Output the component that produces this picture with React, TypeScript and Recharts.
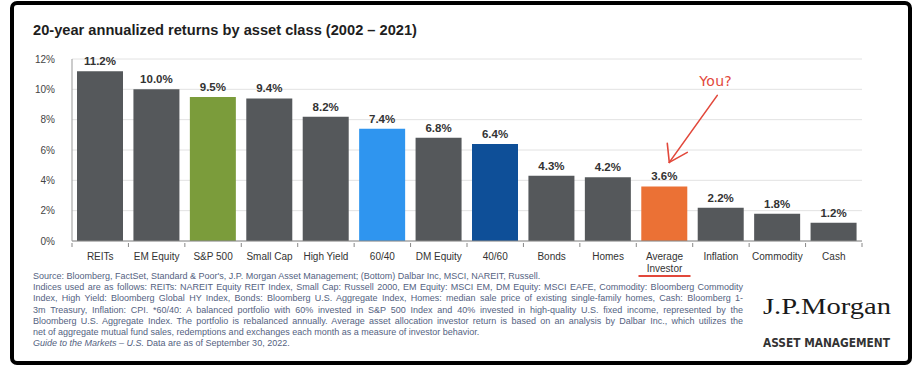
import React from "react";
import { BarChart, Bar, XAxis, YAxis, CartesianGrid, Cell } from "recharts";

// chart values
const categories = [
  "REITs",
  "EM Equity",
  "S&P 500",
  "Small Cap",
  "High Yield",
  "60/40",
  "DM Equity",
  "40/60",
  "Bonds",
  "Homes",
  "Average Investor",
  "Inflation",
  "Commodity",
  "Cash",
];
const returns = [11.2, 10.0, 9.5, 9.4, 8.2, 7.4, 6.8, 6.4, 4.3, 4.2, 3.6, 2.2, 1.8, 1.2];
const barColors = [
  "#55585b", "#55585b", "#7b9c3b", "#55585b", "#55585b", "#2f95ef", "#55585b",
  "#0e4f98", "#55585b", "#55585b", "#eb7135", "#55585b", "#55585b", "#55585b",
];
const yTicks = [0, 2, 4, 6, 8, 10, 12];
const highlighted = "Average Investor";

const footnoteLines = [
  "Indices used are as follows: REITs: NAREIT Equity REIT Index, Small Cap: Russell 2000, EM Equity: MSCI EM, DM Equity: MSCI EAFE, Commodity: Bloomberg Commodity",
  "Index, High Yield: Bloomberg Global HY Index, Bonds: Bloomberg U.S. Aggregate Index, Homes: median sale price of existing single-family homes, Cash: Bloomberg 1-",
  "3m Treasury, Inflation: CPI. *60/40: A balanced portfolio with 60% invested in S&P 500 Index and 40% invested in high-quality U.S. fixed income, represented by the",
  "Bloomberg U.S. Aggregate Index. The portfolio is rebalanced annually. Average asset allocation investor return is based on an analysis by Dalbar Inc., which utilizes the",
];

const data = categories.map((name, i) => ({ name, value: returns[i], color: barColors[i] }));

const FONT = "'Liberation Sans', Arial, sans-serif";
const RED = "#e2483b";
const CHART_W = 922;
const M_LEFT = 72;
const M_RIGHT = 60;
const band = (CHART_W - M_LEFT - M_RIGHT) / categories.length;

function CategoryTick({ x, y, payload, index }: any) {
  const stacked = payload.value === highlighted;
  const parts = stacked ? String(payload.value).split(" ") : [payload.value];
  const last = index === categories.length - 1;
  return (
    <g>
      <line x1={x - band / 2} x2={x - band / 2} y1={y} y2={y + 4} stroke="#888" />
      {last && <line x1={x + band / 2} x2={x + band / 2} y1={y} y2={y + 4} stroke="#888" />}
      {parts.map((t: string, i: number) => (
        <text key={i} x={x} y={y + 17 + i * 12} textAnchor="middle" fontSize={10} fontFamily={FONT} fill="#333">
          {t}
        </text>
      ))}
      {stacked && <line x1={x - 26} x2={x + 26} y1={y + 33} y2={y + 33} stroke={RED} strokeWidth={2} />}
    </g>
  );
}

function ValueLabel({ x, y, width, value, index }: any) {
  const cx = x + width / 2;
  const isAvg = categories[index] === highlighted;
  return (
    <g>
      <text x={cx} y={y - 6} textAnchor="middle" fontSize={11.5} fontWeight="bold" fontFamily={FONT} fill="#333">
        {Number(value).toFixed(1)}%
      </text>
      {isAvg && (
        <g stroke={RED} strokeWidth={1.6} fill="none" strokeLinecap="round">
          <line x1={cx + 53} y1={y - 91} x2={cx + 5} y2={y - 24} />
          <line x1={cx + 5} y1={y - 24} x2={cx + 3} y2={y - 43} />
          <line x1={cx + 5} y1={y - 24} x2={cx + 23} y2={y - 34} />
          <text
            x={cx + 35}
            y={y - 100}
            fontSize={14}
            fontFamily="'DejaVu Sans', sans-serif"
            fill={RED}
            stroke="none"
            letterSpacing={0.3}
          >
            You?
          </text>
        </g>
      )}
    </g>
  );
}

export default function App() {
  return (
    <div style={{ position: "relative", width: 922, height: 367, background: "#fff", overflow: "hidden" }}>
      <style>{`body{margin:0}`}</style>
      <div
        style={{
          position: "absolute",
          left: 10,
          top: 1,
          width: 902,
          height: 364,
          border: "4.5px solid #000",
          borderRadius: 7,
          boxSizing: "border-box",
        }}
      />
      <svg width={922} height={367} style={{ position: "absolute", left: 0, top: 0 }}>
        <text x={33} y={35} fontSize={14.6} fontWeight="bold" fontFamily={FONT} fill="#1e1e1e" textLength={384} lengthAdjust="spacingAndGlyphs">
          20-year annualized returns by asset class (2002 – 2021)
        </text>
        <text x={763} y={314} fontSize={24} fontFamily="'Liberation Serif', 'Times New Roman', serif" fill="#1a1a1a" textLength={128} lengthAdjust="spacingAndGlyphs">
          J.P.Morgan
        </text>
        <text x={763} y={347} fontSize={11.5} fontWeight="bold" fontFamily="'DejaVu Sans Condensed', 'DejaVu Sans', sans-serif" fill="#333" textLength={127} lengthAdjust="spacingAndGlyphs">
          ASSET MANAGEMENT
        </text>
      </svg>
      <div style={{ position: "absolute", left: 0, top: 0 }}>
        <BarChart width={CHART_W} height={290} data={data} margin={{ top: 59, right: M_RIGHT, bottom: 19, left: 0 }}>
          <CartesianGrid vertical={false} stroke="#e2e2e2" />
          <XAxis
            dataKey="name"
            height={30}
            interval={0}
            axisLine={{ stroke: "#888" }}
            tickLine={false}
            tickSize={0}
            tick={<CategoryTick />}
          />
          <YAxis
            width={M_LEFT}
            domain={[0, 12]}
            ticks={yTicks}
            interval={0}
            tickFormatter={(v) => `${v}%`}
            tickLine={false}
            tickSize={0}
            tickMargin={17}
            axisLine={{ stroke: "#999" }}
            tick={{ fontSize: 10, fontFamily: FONT, fill: "#444" }}
          />
          <Bar dataKey="value" barSize={46} isAnimationActive={false} label={<ValueLabel />}>
            {data.map((d) => (
              <Cell key={d.name} fill={d.color} />
            ))}
          </Bar>
        </BarChart>
      </div>
      <div
        style={{
          position: "absolute",
          left: 33,
          top: 271,
          width: 710,
          fontFamily: FONT,
          fontSize: 9,
          lineHeight: "11.2px",
          color: "#54627f",
        }}
      >
        <div>
          Source: Bloomberg, FactSet, Standard &amp; Poor's, J.P. Morgan Asset Management; (Bottom) Dalbar Inc, MSCI, NAREIT, Russell.
        </div>
        {footnoteLines.map((t, i) => (
          <div key={i} style={{ textAlign: "justify", textAlignLast: "justify", whiteSpace: "nowrap" }}>
            {t}
          </div>
        ))}
        <div>net of aggregate mutual fund sales, redemptions and exchanges each month as a measure of investor behavior.</div>
        <div>
          <i>Guide to the Markets – U.S.</i> Data are as of September 30, 2022.
        </div>
      </div>
    </div>
  );
}
